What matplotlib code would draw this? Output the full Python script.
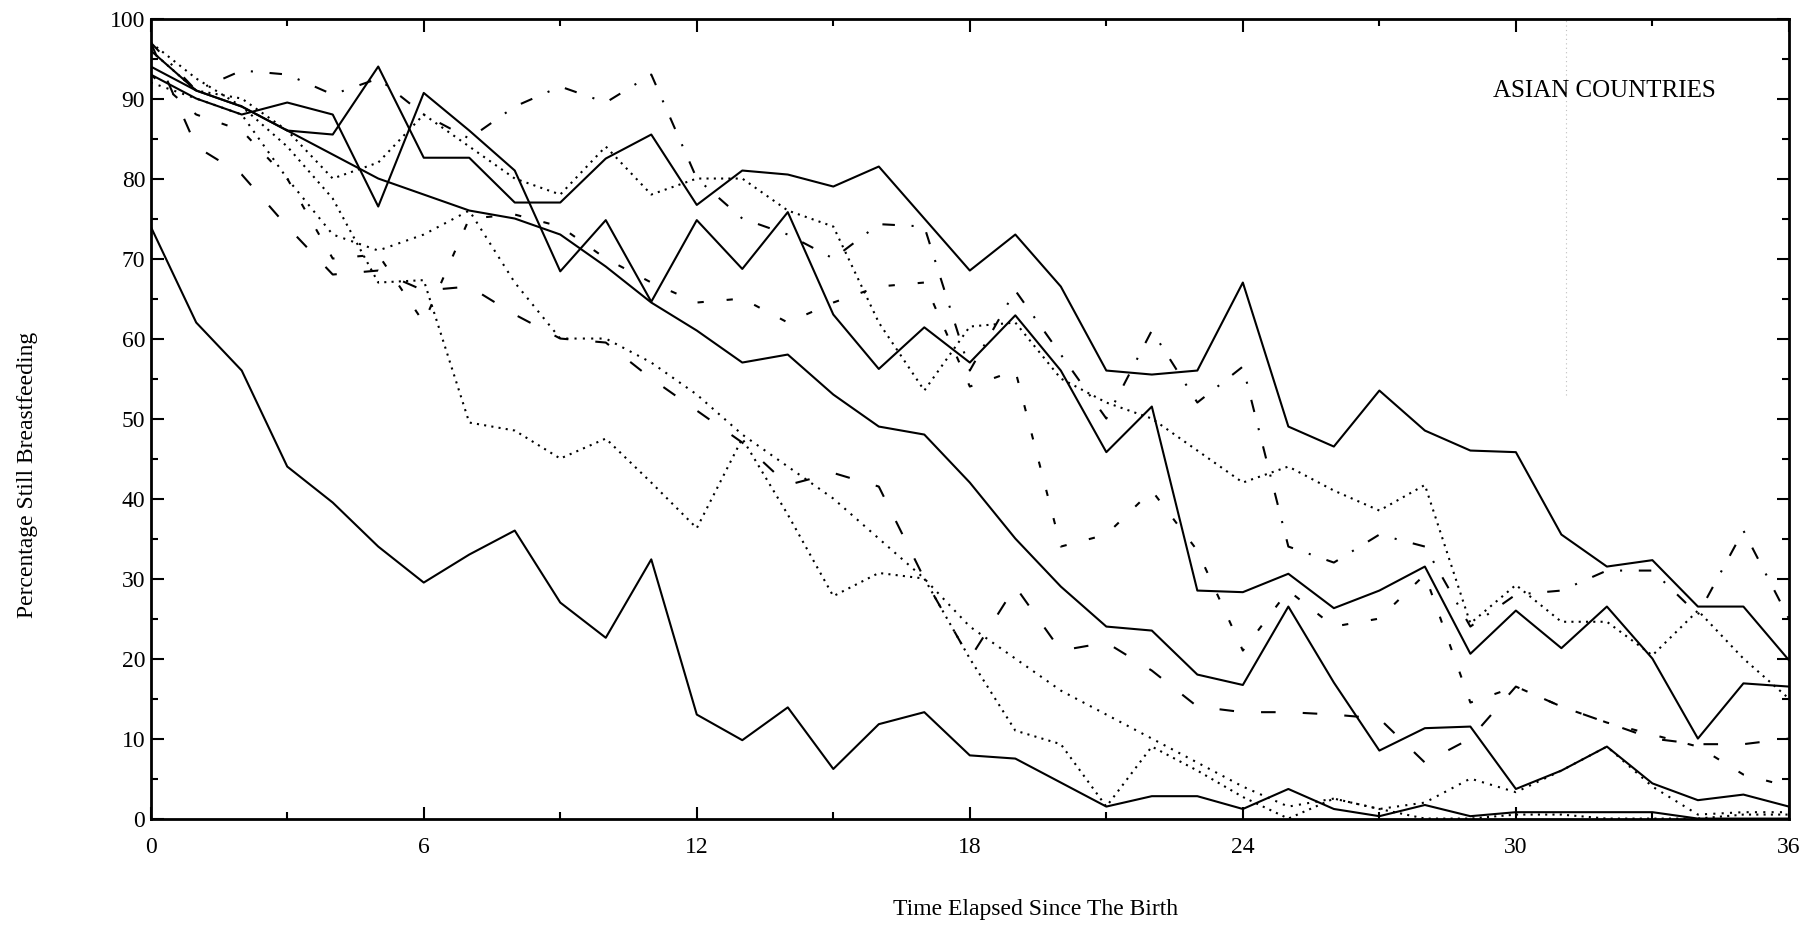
import numpy as np
import matplotlib.pyplot as plt

plt.rcParams['font.family'] = ['Liberation Serif', 'DejaVu Serif']

# months since birth
months = list(range(37))

# percentage still breastfeeding, one list per country
s1 = [74, 62, 56, 44, 39.5, 34, 29.5, 33, 36, 27, 22.6, 32.4, 13, 9.8, 13.9, 6.2, 11.8, 13.3, 7.9, 7.5,
      4.5, 1.5, 2.8, 2.8, 1.2, 3.7, 1.2, 0.3, 1.7, 0.3, 0.8, 0.8, 0.8, 0.8, 0, 0, 0]
s2 = [97, 92.5, 89, 84, 77.5, 67, 67.3, 49.5, 48.5, 45, 47.5, 42, 36.3, 47.5, 38, 27.8, 30.7, 30, 20, 11,
      9.3, 1.5, 9, 6, 2.7, 0, 2.5, 1.2, 0, 0, 0.5, 0.5, 0, 0, 0, 0.5, 0.5]
s3 = [96, 91, 89, 86, 85.5, 94, 82.6, 82.6, 77, 77, 82.5, 85.5, 76.7, 81, 80.5, 79, 81.5, 75, 68.5, 73,
      66.5, 56, 55.5, 56, 67, 49, 46.5, 53.5, 48.5, 46, 45.8, 35.5, 31.5, 32.3, 26.5, 26.5, 19.8]
s4 = [93, 90, 88, 89.5, 88, 76.5, 90.7, 86, 81, 68.4, 74.8, 64.6, 74.8, 68.7, 75.8, 63, 56.2, 61.4, 57, 62.9,
      56, 45.8, 51.5, 28.5, 28.3, 30.6, 26.3, 28.5, 31.5, 20.6, 26, 21.3, 26.5, 20, 10, 16.9, 16.5]
s5 = [94, 91, 89, 86, 83, 80, 78, 76, 75, 73, 69, 64.5, 61, 57, 58, 53, 49, 48, 42, 35,
      29, 24, 23.5, 18, 16.7, 26.5, 17, 8.5, 11.3, 11.5, 3.7, 6, 9, 4.4, 2.3, 3, 1.5]
s6 = [96, 91, 90, 86, 80, 82, 88, 84, 80, 78, 84, 78, 80, 80, 76, 74, 62, 53.5, 61.5, 62,
      55, 52, 50, 46, 42, 44, 41, 38.5, 41.7, 24.4, 29.2, 24.6, 24.6, 20.4, 26, 20, 15]
s7 = [93, 88, 86, 80, 70, 70.5, 62, 75, 75.5, 74, 70, 67, 64.5, 65, 62, 64.5, 66.5, 67, 54, 56,
      34, 35.5, 41, 33.5, 21, 28.5, 24, 25, 30.5, 14.5, 16.5, 14, 12, 10.5, 9, 5.5, 4]
s8 = [97, 84, 80.5, 74, 68, 68.5, 66, 66.5, 63, 60, 59.5, 55, 51, 47, 41.7, 43.2, 41.5, 30, 20, 29,
      21, 22, 18.5, 14, 13.3, 13.3, 13, 12.5, 7, 10, 16.5, 14, 12, 10, 9.3, 9.3, 10]
s9 = [97, 91, 93.5, 93, 90.5, 92.5, 88, 85, 89, 91.5, 89.5, 93, 80, 75, 73, 70, 74.3, 74, 56, 66,
      58, 50, 61, 52, 56.5, 34, 32, 35.5, 34, 24, 28, 28.5, 31, 31, 25.5, 36, 25]
s10 = [92, 90, 88, 80, 73, 71, 73, 76, 67, 60, 60, 57, 53, 48, 44, 40, 35, 30, 24, 20,
       16, 13, 10, 7, 4, 1.5, 2.5, 1.2, 2, 5, 3.3, 6, 9, 4, 0.5, 0.8, 0.8]

series = [s1, s2, s3, s4, s5, s6, s7, s8, s9, s10]
styles = ['-', (0, (1, 2.5)), '-', '-', '-', (0, (1, 2.5)), (0, (3, 11)), (0, (7, 13)),
          (0, (6, 8, 1, 8)), (0, (1, 3))]

fig = plt.figure(figsize=(18.18, 9.26), dpi=100)
ax = fig.add_axes([0.0829, 0.116, 0.9011, 0.864])

for s, ls in zip(series, styles):
    ax.plot(months, s, color='k', linewidth=1.5, linestyle=ls)

# faint scanner streak
ax.axvline(31.1, ymin=0.53, ymax=1.0, color='0.75', linewidth=0.8, linestyle=(0, (1, 3)))

ax.text(29.5, 91, 'ASIAN COUNTRIES', fontsize=18, va='center', ha='left')

ax.set_xlim(0, 36)
ax.set_ylim(0, 100)
ax.set_xticks(range(0, 37, 6))
ax.set_xticks(range(0, 37, 3), minor=True)
ax.set_yticks(range(0, 101, 10))
ax.set_yticks(range(0, 101, 5), minor=True)
ax.tick_params(which='both', direction='in', top=True, right=True, labelsize=17, width=1.5)
ax.tick_params(which='major', length=9)
ax.tick_params(which='minor', length=5)
ax.tick_params(axis='y', which='major', pad=4)
ax.tick_params(axis='x', which='major', pad=13)
for sp in ax.spines.values():
    sp.set_linewidth(2)

ax.set_xlabel('Time Elapsed Since The Birth', fontsize=17, labelpad=30, x=0.54)
ax.set_ylabel('Percentage Still Breastfeeding', fontsize=17, labelpad=52, y=0.43)

plt.savefig('out.png', dpi=100)
